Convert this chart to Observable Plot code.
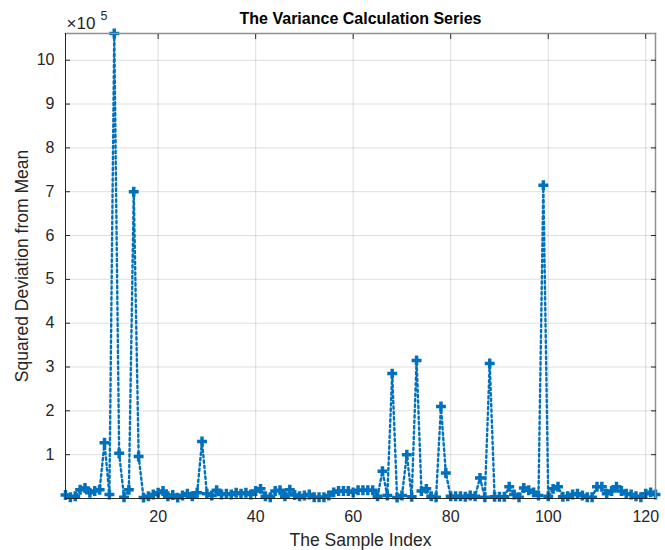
<!DOCTYPE html>
<html><head><meta charset="utf-8">
<script src="https://cdn.jsdelivr.net/npm/d3@7"></script>
<script src="https://cdn.jsdelivr.net/npm/@observablehq/plot@0.6"></script>
<style>body{margin:0;background:#fff;font-family:"Liberation Sans",Arial,sans-serif}</style>
</head><body><div id="chart"></div>
<script>
// Squared deviation from mean, in units of 1e5 (sample index 1..122)
const deviationE5 = [
  0.08,0.03,0.05,0.20,0.24,0.13,0.17,0.20,1.27,0.09,
  10.61,1.03,0.03,0.20,7.00,0.96,0.02,0.05,0.09,0.13,
  0.17,0.05,0.08,0.02,0.07,0.11,0.05,0.13,1.30,0.11,
  0.07,0.19,0.09,0.11,0.09,0.13,0.11,0.13,0.09,0.17,
  0.22,0.05,0.03,0.17,0.19,0.05,0.20,0.08,0.05,0.07,
  0.09,0.03,0.03,0.03,0.07,0.14,0.17,0.17,0.17,0.14,
  0.19,0.19,0.19,0.19,0.05,0.62,0.07,2.85,0.02,0.07,
  1.00,0.04,3.15,0.17,0.22,0.05,0.03,2.10,0.58,0.05,
  0.05,0.05,0.04,0.07,0.05,0.47,0.03,3.08,0.04,0.04,
  0.04,0.27,0.09,0.03,0.24,0.19,0.14,0.07,7.15,0.05,
  0.22,0.27,0.04,0.05,0.09,0.11,0.07,0.03,0.03,0.27,
  0.27,0.11,0.17,0.27,0.17,0.11,0.09,0.05,0.03,0.11,
  0.14,0.09
];
const xTicks = [20, 40, 60, 80, 100, 120];
const yTicks = [1, 2, 3, 4, 5, 6, 7, 8, 9, 10];
const titleText = "The Variance Calculation Series";
const xLabel = "The Sample Index";
const yLabel = "Squared Deviation from Mean";
const exponentBase = "×10";
const exponent = "5";

const data = deviationE5.map((v, i) => ({index: i + 1, value: v}));
const ink = "#262626";
const blue = "#0072BD";

const chart = Plot.plot({
  width: 665,
  height: 550,
  marginLeft: 65,
  marginRight: 10,
  marginTop: 33,
  marginBottom: 52,
  style: {fontFamily: "'Liberation Sans', Arial, sans-serif", background: "#fff"},
  x: {domain: [1, data.length]},
  y: {domain: [0, d3.max(deviationE5)]},
  marks: [
    Plot.gridX(xTicks, {stroke: ink, strokeOpacity: 0.15}),
    Plot.gridY(yTicks, {stroke: ink, strokeOpacity: 0.15}),
    Plot.line(data, {x: "index", y: "value", stroke: blue, strokeWidth: 2.4, strokeDasharray: "2.4,3"}),
    Plot.dot(data, {x: "index", y: "value", symbol: "plus", r: 3.3, stroke: blue, strokeWidth: 3.5}),
    Plot.frame({anchor: "top", stroke: "#8f8f8f", strokeWidth: 1.5}),
    Plot.frame({anchor: "right", stroke: "#8f8f8f", strokeWidth: 1.5}),
    Plot.frame({anchor: "left", stroke: ink}),
    Plot.frame({anchor: "bottom", stroke: ink}),
    Plot.axisX(xTicks, {anchor: "bottom", tickSize: -5, tickPadding: 17, fontSize: 16, stroke: ink, fill: ink, label: null}),
    Plot.axisX(xTicks, {anchor: "top", tickSize: -5, tickFormat: () => "", stroke: ink, label: null}),
    Plot.axisY(yTicks, {anchor: "left", tickSize: -5, tickPadding: 16, fontSize: 16, stroke: ink, fill: ink, label: null}),
    Plot.axisY(yTicks, {anchor: "right", tickSize: -5, tickFormat: () => "", stroke: ink, label: null}),
    Plot.text([titleText], {frameAnchor: "top", dy: -15, lineAnchor: "middle", fontSize: 16, fontWeight: "bold", fill: "#000"}),
    Plot.text([xLabel], {frameAnchor: "bottom", dy: 42, lineAnchor: "middle", fontSize: 17.5, fill: ink}),
    Plot.text([yLabel], {frameAnchor: "left", dx: -43, rotate: -90, textAnchor: "middle", lineAnchor: "middle", fontSize: 17.5, fill: ink}),
    Plot.text([exponentBase], {frameAnchor: "top-left", dx: 1, dy: -10, textAnchor: "start", lineAnchor: "middle", fontSize: 17, fill: ink}),
    Plot.text([exponent], {frameAnchor: "top-left", dx: 35, dy: -18, textAnchor: "start", lineAnchor: "middle", fontSize: 12.5, fill: ink})
  ]
});
document.getElementById("chart").appendChild(chart);
</script>
</body></html>
